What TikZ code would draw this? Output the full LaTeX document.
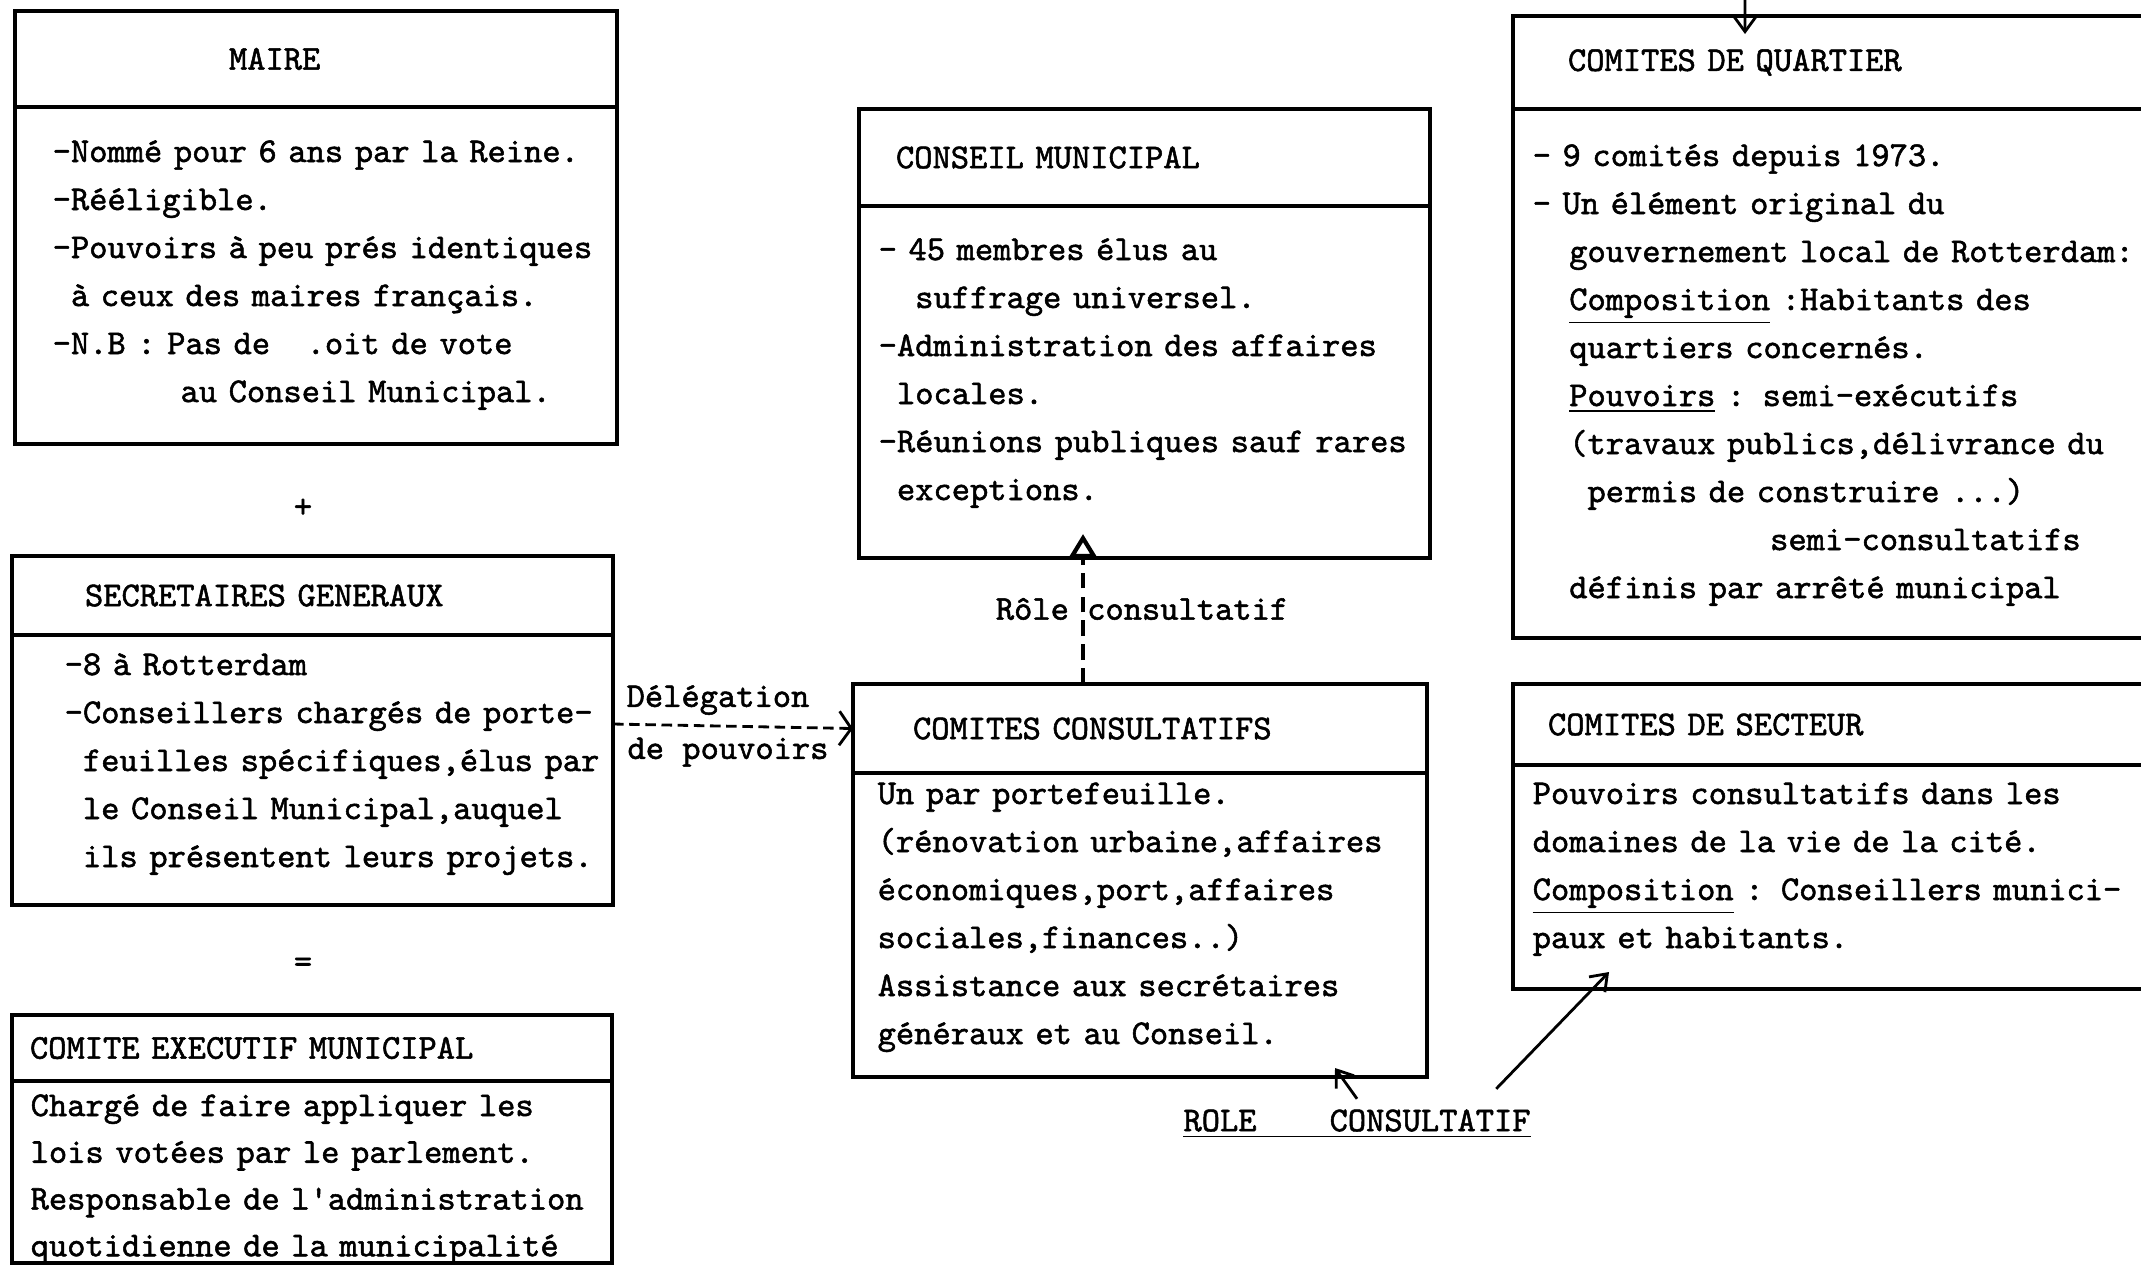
\documentclass[tikz,border=0pt]{standalone}
\usepackage{fontspec}
\usepackage{tikz}
\usetikzlibrary{positioning,arrows.meta}
\newfontfamily\typo[FakeBold=1.5]{lmmono10-regular.otf}
\newcommand{\blanc}[1]{\hspace*{#1\fontcharwd\font`x}}

\begin{document}
\begin{tikzpicture}[x=0.1mm, y=-0.1mm,
    txt/.style={font=\typo\fontsize{9.9pt}{13.66pt}\selectfont, inner sep=0pt},
    boite/.style={draw, line width=0.9pt, inner sep=0pt, outer sep=0pt},
    titre/.style={boite, txt, align=left, text width=#1},
    corps/.style={boite, minimum width=#1},
    texte/.style={txt, align=left, text width=80mm, anchor=base west},
    lien/.style={line width=0.8pt, -{Straight Barb[length=1.5mm,width=2.2mm]}}]
    % Page
    \path[use as bounding box, fill=white] (0,0) rectangle (2141,1265);
    \clip (0,0) rectangle (2141,1265);
    % Maire
    \node[titre=60.2mm, minimum height=9.6mm, anchor=north west] (maireH) at (15,11) {\hspace*{21.4mm}MAIRE};
    \node[corps=60.2mm, minimum height=33.7mm, below=0pt of maireH] (maireB) {};
    \node[texte] (maireT) at ([xshift=3.7mm, yshift=-5.5mm]maireB.north west) {-Nommé pour 6 ans par la Reine.\\
        -Rééligible.\\
        -Pouvoirs à peu prés identiques\\
        \blanc{1}à ceux des maires français.\\
        -N.B : Pas de\blanc{2}.oit de vote\\
        \blanc{7}au Conseil Municipal.};
    \node[txt] (plus) at (303,508) {+};
    % Secretaires generaux
    \node[titre=60.1mm, minimum height=7.9mm, anchor=north west] (sgH) at (12,556) {\hspace*{7.3mm}SECRETAIRES GENERAUX};
    \node[corps=60.1mm, minimum height=27mm, below=0pt of sgH] (sgB) {};
    \node[texte] (sgT) at ([xshift=5.2mm, yshift=-4mm]sgB.north west) {-8 à Rotterdam\\
        -Conseillers chargés de porte-\\
        \blanc{1}feuilles spécifiques,élus par\\
        \blanc{1}le Conseil Municipal,auquel\\
        \blanc{1}ils présentent leurs projets.};
    \node[txt] (egal) at (303,965) {=};
    % Comite executif
    \node[titre=60mm, minimum height=6.6mm, anchor=north west] (cemH) at (12,1015) {\hspace*{1.8mm}COMITE EXECUTIF MUNICIPAL};
    \node[corps=60mm, minimum height=18.2mm, below=0pt of cemH] (cemB) {};
    \node[texte, font=\typo\fontsize{9.9pt}{13.3pt}\selectfont] (cemT) at ([xshift=1.8mm, yshift=-3.5mm]cemB.north west) {Chargé de faire appliquer les\\
        lois votées par le parlement.\\
        Responsable de l'administration\\
        quotidienne de la municipalité};
    % Conseil municipal
    \node[titre=57.1mm, minimum height=9.7mm, anchor=north west] (cmH) at (859,109) {\hspace*{3.7mm}CONSEIL MUNICIPAL};
    \node[corps=57.1mm, minimum height=35.2mm, below=0pt of cmH] (cmB) {};
    \node[texte] (cmT) at ([xshift=1.9mm, yshift=-5.4mm]cmB.north west) {- 45 membres élus au\\
        \blanc{2}suffrage universel.\\
        -Administration des affaires\\
        \blanc{1}locales.\\
        -Réunions publiques sauf rares\\
        \blanc{1}exceptions.};
    % Comites consultatifs
    \node[titre=57.4mm, minimum height=8.9mm, anchor=north west] (ccH) at (853,684) {\hspace*{6mm}COMITES CONSULTATIFS};
    \node[corps=57.4mm, minimum height=30.4mm, below=0pt of ccH] (ccB) {};
    \node[texte] (ccT) at ([xshift=2.4mm, yshift=-3.1mm]ccB.north west) {Un par portefeuille.\\
        (rénovation urbaine,affaires\\
        économiques,port,affaires\\
        sociales,finances..)\\
        Assistance aux secrétaires\\
        généraux et au Conseil.};
    % Comites de quartier
    \node[titre=70mm, minimum height=9.3mm, anchor=north west] (cqH) at (1513,16) {\hspace*{5.5mm}COMITES DE QUARTIER};
    \node[corps=70mm, minimum height=52.9mm, below=0pt of cqH] (cqB) {};
    \node[texte] (cqT) at ([xshift=1.9mm, yshift=-5.7mm]cqB.north west) {- 9 comités depuis 1973.\\
        - Un élément original du\\
        \blanc{2}gouvernement local de Rotterdam:\\
        \blanc{2}\underline{Composition} :Habitants des\\
        \blanc{2}quartiers concernés.\\
        \blanc{2}\underline{Pouvoirs} : semi-exécutifs\\
        \blanc{2}(travaux publics,délivrance du\\
        \blanc{3}permis de construire ...)\\
        \blanc{13}semi-consultatifs\\
        \blanc{2}définis par arrêté municipal};
    % Comites de secteur
    \node[titre=70mm, minimum height=8.1mm, anchor=north west] (csH) at (1513,684) {\hspace*{3.5mm}COMITES DE SECTEUR};
    \node[corps=70mm, minimum height=22.4mm, below=0pt of csH] (csB) {};
    \node[texte] (csT) at ([xshift=1.9mm, yshift=-3.9mm]csB.north west) {Pouvoirs consultatifs dans les\\
        domaines de la vie de la cité.\\
        \underline{Composition} : Conseillers munici-\\
        paux et habitants.};
    % Arrows
    \draw[line width=1.1pt, dash pattern=on 4.5pt off 2.3pt, -{Triangle[open, length=2.4mm, width=2.8mm, line width=1.2pt]}] ([xshift=23mm]ccH.north west) -- ([xshift=22.4mm, yshift=2.4mm]cmB.south west)
        node[txt, midway, xshift=5.9mm] (roleA) {Rôle consultatif};
    \draw[line width=0.8pt, dash pattern=on 3pt off 1.6pt, -{Straight Barb[length=1.2mm, width=3.4mm]}] ([yshift=-8.9mm]sgB.north east) -- (ccH.west)
        node[txt, midway, above, inner sep=1mm, xshift=-1.5mm] (delegA) {Délégation}
        node[txt, midway, below, inner sep=1mm, xshift=-0.5mm] (delegB) {de pouvoirs};
    \node[txt, inner sep=1mm] (roleC) at (1357,1124) {\underline{ROLE\blanc{4}CONSULTATIF}};
    \draw[lien] (roleC.north) -- ([xshift=48.2mm, yshift=0.9mm]ccB.south west);
    \draw[lien] ([xshift=-4.5mm, yshift=1mm]roleC.north east) -- ([xshift=9.6mm, yshift=1.7mm]csB.south west);
    \coordinate (hautQ) at (1745,0);
    \draw[lien] (hautQ) -- ([xshift=23.2mm, yshift=-1.8mm]cqH.north west);
\end{tikzpicture}
\end{document}
